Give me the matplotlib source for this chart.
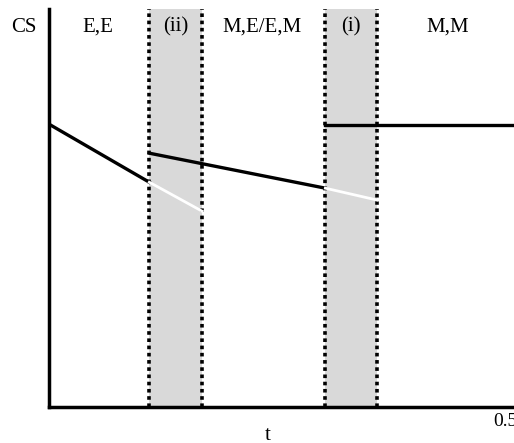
import numpy as np
import matplotlib.pyplot as plt

plt.rcParams['font.family'] = ['Liberation Serif', 'DejaVu Serif']

# shaded transition bands (t start, t end) and their labels
bands = [(0.110, 0.168), (0.303, 0.360)]
band_labels = ['(ii)', '(i)']

# region labels between the bands
region_labels = ['E,E', 'M,E/E,M', 'M,M']
region_x = [0.054, 0.233, 0.437]

# CS curves: black (stable) and white (continued) segments
seg1_t = [0.0, 0.110]
seg1_cs = [0.711, 0.565]
seg1w_t = [0.110, 0.168]
seg1w_cs = [0.565, 0.492]

seg2_t = [0.110, 0.303]
seg2_cs = [0.638, 0.550]
seg2w_t = [0.303, 0.360]
seg2w_cs = [0.550, 0.520]

seg3_t = [0.303, 0.510]
seg3_cs = [0.709, 0.709]

fig = plt.figure(figsize=(5.14, 4.43), dpi=100)
ax = fig.add_axes([0.0953, 0.0813, 0.905, 0.898])
ax.set_xlim(0, 0.51)
ax.set_ylim(0, 1)

for (a, b) in bands:
    ax.axvspan(a, b, color='#d9d9d9', lw=0, zorder=0)
    for xv in (a, b):
        ax.axvline(xv, color='black', lw=2.6, linestyle=(0, (1, 1)), zorder=1)

ax.plot(seg1_t, seg1_cs, color='black', lw=2.4, zorder=3)
ax.plot(seg1w_t, seg1w_cs, color='white', lw=2.0, zorder=3)
ax.plot(seg2_t, seg2_cs, color='black', lw=2.4, zorder=3)
ax.plot(seg2w_t, seg2w_cs, color='white', lw=2.0, zorder=3)
ax.plot(seg3_t, seg3_cs, color='black', lw=2.4, zorder=3)

for (a, b), lab in zip(bands, band_labels):
    ax.text((a + b) / 2, 0.955, lab, ha='center', va='center', fontsize=15)
for xv, lab in zip(region_x, region_labels):
    ax.text(xv, 0.955, lab, ha='center', va='center', fontsize=15)

fig.text(24 / 514, 1 - 27 / 443, 'CS', ha='center', va='center', fontsize=15)

for s in ['top', 'right']:
    ax.spines[s].set_visible(False)
for s in ['left', 'bottom']:
    ax.spines[s].set_linewidth(2.5)
ax.set_yticks([])
ax.set_xticks([0.5])
ax.set_xticklabels(['0.5'], fontsize=14)
ax.tick_params(axis='x', length=0, pad=4)
fig.text(268 / 514, 1 - 435 / 443, 't', ha='center', va='center', fontsize=15)

fig.savefig('out.png', dpi=100)
